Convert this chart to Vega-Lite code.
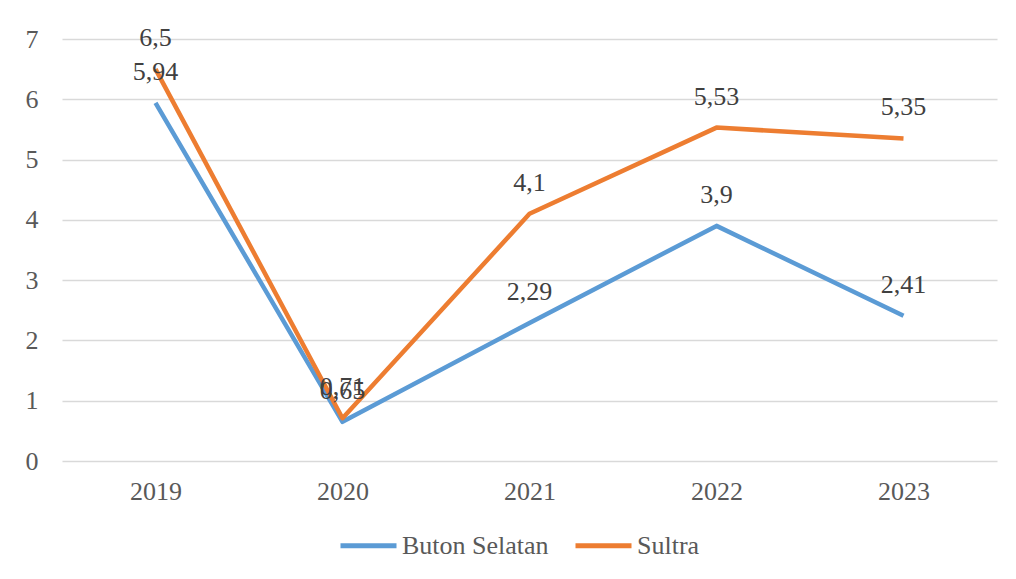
{
  "$schema": "https://vega.github.io/schema/vega-lite/v6.json",
  "width": 935,
  "height": 422,
  "autosize": {"type": "none"},
  "padding": {"left": 62, "top": 39, "right": 19, "bottom": 118},
  "background": "white",
  "config": {
    "locale": {"number": {"decimal": ",", "thousands": ".", "grouping": [3], "currency": ["", ""]}},
    "view": {"stroke": null},
    "font": "Liberation Serif",
    "axis": {"labelFont": "Liberation Serif", "labelFontSize": 26, "labelColor": "#595959", "ticks": false, "domain": false, "gridColor": "#D9D9D9", "gridWidth": 1.5},
    "legend": {"labelFont": "Liberation Serif", "labelFontSize": 26, "labelColor": "#595959"}
  },
  "data": {
    "values": [
      {"year": "2019", "series": "Buton Selatan", "value": 5.94},
      {"year": "2020", "series": "Buton Selatan", "value": 0.65},
      {"year": "2021", "series": "Buton Selatan", "value": 2.29},
      {"year": "2022", "series": "Buton Selatan", "value": 3.9},
      {"year": "2023", "series": "Buton Selatan", "value": 2.41},
      {"year": "2019", "series": "Sultra", "value": 6.5},
      {"year": "2020", "series": "Sultra", "value": 0.71},
      {"year": "2021", "series": "Sultra", "value": 4.1},
      {"year": "2022", "series": "Sultra", "value": 5.53},
      {"year": "2023", "series": "Sultra", "value": 5.35}
    ]
  },
  "encoding": {
    "x": {"field": "year", "type": "ordinal", "scale": {"type": "point", "padding": 0.5}, "axis": {"title": null, "labelAngle": 0, "labelPadding": 17, "grid": false}},
    "y": {"field": "value", "type": "quantitative", "scale": {"domain": [0, 7], "nice": false}, "axis": {"title": null, "values": [0, 1, 2, 3, 4, 5, 6, 7], "labelOverlap": false, "labelPadding": 24, "grid": true}}
  },
  "layer": [
    {
      "mark": {"type": "line", "strokeWidth": 4.5, "strokeJoin": "round"},
      "encoding": {
        "color": {"field": "series", "type": "nominal", "scale": {"domain": ["Buton Selatan", "Sultra"], "range": ["#5B9BD5", "#ED7D31"]},
          "legend": {"title": null, "orient": "none", "direction": "horizontal", "legendX": 276, "legendY": 476, "symbolType": "stroke", "symbolSize": 3136, "symbolStrokeWidth": 5, "labelOffset": 3, "columnPadding": 16}}
      }
    },
    {
      "mark": {"type": "text", "dy": -31, "baseline": "middle", "fontSize": 26, "color": "#404040", "font": "Liberation Serif"},
      "encoding": {
        "text": {"field": "value", "type": "quantitative", "format": "~g"}
      }
    }
  ]
}
